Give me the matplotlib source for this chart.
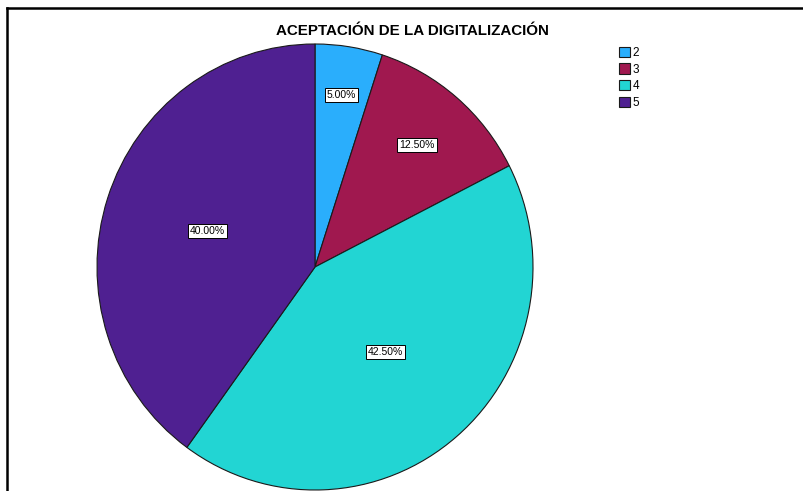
import numpy as np
import matplotlib.pyplot as plt
from matplotlib.lines import Line2D

# Data
categories = ['2', '3', '4', '5']
percentages = [5.0, 12.5, 42.5, 40.0]
colors = ['#2aaefc', '#a0184f', '#22d5d3', '#4f2091']
label_radius = [0.78, 0.72, 0.50, 0.52]

plt.rcParams['font.family'] = ['Liberation Sans', 'DejaVu Sans']

W, H = 804, 491
fig = plt.figure(figsize=(W / 100, H / 100), dpi=100)

# pie area in pixels: x 97..533, y 44..490
ax = fig.add_axes([97 / W, 1 - 490 / H, 436 / W, 446 / H])
wedges, texts, autotexts = ax.pie(
    percentages, colors=colors, startangle=90, counterclock=False,
    autopct='%.2f%%', pctdistance=0.6,
    wedgeprops=dict(edgecolor='#1a1a1a', linewidth=0.8),
    textprops=dict(fontsize=7.5, color='black'))
ax.set_aspect('auto')
ax.set_xlim(-1, 1)
ax.set_ylim(-1, 1)

for w, t, r in zip(wedges, autotexts, label_radius):
    ang = np.deg2rad((w.theta1 + w.theta2) / 2)
    t.set_position((r * np.cos(ang), r * np.sin(ang)))
    t.set_bbox(dict(facecolor='white', edgecolor='black', linewidth=0.7,
                    boxstyle='square,pad=0.2'))

fig.text(412 / W, 1 - 31 / H, 'ACEPTACIÓN DE LA DIGITALIZACIÓN',
         ha='center', va='center', fontsize=10.9, fontweight='bold')

fig.legend(wedges, categories, loc='upper left',
           bbox_to_anchor=(611 / W, 1 - 38.5 / H), frameon=False,
           fontsize=8.5, handlelength=0.95, handleheight=0.95,
           handletextpad=0.15, labelspacing=0.38, borderpad=0.2)

# frame lines (left and top)
fig.add_artist(Line2D([7 / W, 7 / W], [0, 1 - 8 / H], color='black', linewidth=1.8))
fig.add_artist(Line2D([7 / W, 1], [1 - 8 / H, 1 - 8 / H], color='black', linewidth=1.8))

fig.savefig('out.png', dpi=100)
